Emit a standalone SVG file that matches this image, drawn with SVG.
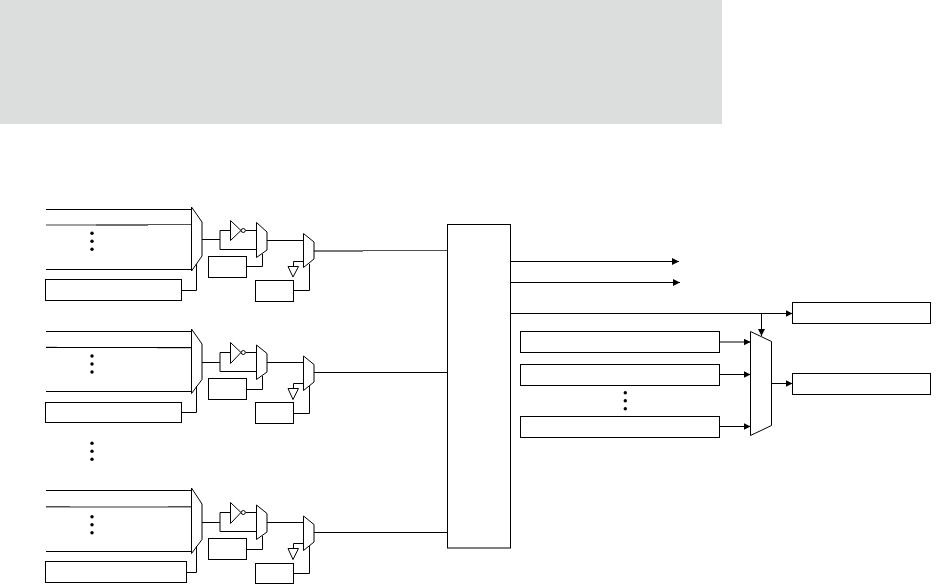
<svg xmlns="http://www.w3.org/2000/svg" width="936" height="587" viewBox="0 0 936 587">
<style>
.l{fill:none;stroke:#000;stroke-width:1}
.s{fill:#fff;stroke:#000;stroke-width:1}
.m{fill:none;stroke:#000;stroke-width:1;stroke-linejoin:miter}
.d{fill:#000}
</style>
<defs>
<marker id="a" markerUnits="userSpaceOnUse" markerWidth="8" markerHeight="8" refX="7" refY="3.5" orient="auto"><path d="M0 0L7 3.5L0 7z"/></marker>
<g id="dots"><circle class="d" cx="0" cy="0" r="1.7"/><circle class="d" cx="0" cy="8" r="1.7"/><circle class="d" cx="0" cy="16" r="1.7"/></g>
</defs>
<rect id="banner" x="0" y="0" width="722" height="124" fill="#dcdddd"/>
<g id="connectors">
<path class="l" d="M46 209.5H191.5M46 269.5H191.5"/>
<path fill="none" stroke="#a0a0a0" stroke-width="2" d="M46 225H96"/>
<path fill="none" stroke="#707070" stroke-width="2" d="M96 225H148"/>
<path fill="none" stroke="#505050" stroke-width="1" d="M148 224.5H191.5"/>
<path class="l" d="M202 239.5H220V249.5H256.5M220 239.5V230.5H230M245.5 230.5H256.5M267 240.5H303.5"/>
<path fill="none" stroke="#777" stroke-width="2" d="M314 251H363"/>
<path fill="none" stroke="#505050" stroke-width="1" d="M363 250.5H447.5"/>
<path class="l" d="M181.5 290.5H196.5V264M246.5 266.5H262.5V254M293.5 290.5H309.5V264M293.5 266V261.5H303.5"/>
<path class="l" d="M46 331.5H191.5M46 347.5H191.5M46 391.5H191.5"/>
<path fill="none" stroke="#ccc" stroke-width="1" d="M46 346.5H57M157 348.5H191"/>
<path class="l" d="M202 362.5H220V371.5H256.5M220 362.5V352.5H230M245.5 352.5H256.5M267 362.5H303.5M314 372.5H447.5"/>
<path class="l" d="M181.5 412.5H196.5V386M246.5 389.5H262.5V376M293.5 413.5H309.5V386M293.5 388.5V383.5H303.5"/>
<path class="l" d="M46 490.5H191.5M46 551.5H191.5"/>
<path fill="none" stroke="#505050" stroke-width="1.5" d="M46 506.8H70M168 506.8H191.5"/>
<path fill="none" stroke="#999" stroke-width="2" d="M70 507H168"/>
<path class="l" d="M202 522.5H220V531.5H256.5M220 522.5V512.5H230M245.5 512.5H256.5M267 522.5H303.5M314 532.5H447.5"/>
<path class="l" d="M186.5 572.5H196.5V546M246.5 549.5H262.5V536M293.5 573.5H309.5V546M293.5 548.5V543.5H303.5"/>
<path class="l" marker-end="url(#a)" d="M510.5 261.5H679"/>
<path class="l" marker-end="url(#a)" d="M510.5 282.5H680"/>
<path class="l" marker-end="url(#a)" d="M510.5 313.5H792.5"/>
<path class="l" marker-end="url(#a)" d="M761.5 313.5V336"/>
<path class="l" marker-end="url(#a)" d="M719.5 342H750.5"/>
<path class="l" marker-end="url(#a)" d="M719.5 374.5H750.5"/>
<path class="l" marker-end="url(#a)" d="M719.5 426.5H750.5"/>
<path class="l" marker-end="url(#a)" d="M771.5 383.5H792.5"/>
</g>
<g id="group1">
<path class="m" d="M191.5 207L202 222V256L191.5 271Z"/>
<path class="m" d="M230.5 220.5V240.5L241 230.5Z"/><circle class="s" cx="243.3" cy="230.5" r="2"/>
<path class="m" d="M256.5 222.5L267 232V250L256.5 257.5Z"/>
<path class="m" d="M303.5 233.5L314 242V259L303.5 267.5Z"/>
<path class="m" d="M288 266.5H298.5L293 277Z"/>
<rect class="l" x="45.5" y="279.5" width="136" height="21"/>
<rect class="l" x="208.5" y="256.5" width="38" height="21"/>
<rect class="l" x="255.5" y="280.5" width="38" height="21"/>
<use href="#dots" x="92" y="233.3"/>
</g>
<g id="group2">
<path class="m" d="M191.5 329L202 344V379.5L191.5 393.5Z"/>
<path class="m" d="M230.5 342.5V363.5L241 352.5Z"/><circle class="s" cx="243.3" cy="352.5" r="2"/>
<path class="m" d="M256.5 345L267 353.5V372L256.5 379.5Z"/>
<path class="m" d="M303.5 356L314 364.5V382L303.5 390.5Z"/>
<path class="m" d="M288 388.5H298.5L293 399.5Z"/>
<rect class="l" x="45.5" y="402.5" width="136" height="20"/>
<rect class="l" x="208.5" y="378.5" width="38" height="21"/>
<rect class="l" x="255.5" y="402.5" width="38" height="21"/>
<use href="#dots" x="92" y="356"/>
</g>
<use id="dots-between" href="#dots" x="92" y="443.3"/>
<g id="group3">
<path class="m" d="M191.5 488L202 504V539.5L191.5 553.5Z"/>
<path class="m" d="M230.5 502.5V523.5L241 512.5Z"/><circle class="s" cx="243.3" cy="512.5" r="2"/>
<path class="m" d="M256.5 505L267 513.5V532L256.5 539.5Z"/>
<path class="m" d="M303.5 516L314 524.5V542L303.5 550.5Z"/>
<path class="m" d="M288 548.5H298.5L293 559.5Z"/>
<rect class="l" x="45.5" y="561.5" width="141" height="21"/>
<rect class="l" x="208.5" y="538.5" width="38" height="21"/>
<rect class="l" x="255.5" y="563.5" width="38" height="20"/>
<use href="#dots" x="92" y="516.7"/>
</g>
<g id="central"><rect class="l" x="447.5" y="224.5" width="63" height="323.5"/></g>
<g id="source1"><rect class="l" x="520.5" y="331.5" width="199" height="21"/></g>
<g id="source2"><rect class="l" x="520.5" y="364.5" width="199" height="21"/></g>
<g id="source3"><rect class="l" x="520.5" y="416.5" width="199" height="21"/></g>
<use id="source-dots" href="#dots" x="625.3" y="392.7"/>
<g id="outmux"><path class="m" d="M750.5 331.5L771.5 341.5V425.5L750.5 435.5Z"/></g>
<g id="out1"><rect class="l" x="792.5" y="302.5" width="138" height="21"/></g>
<g id="out2"><rect class="l" x="792.5" y="373.5" width="138" height="21"/></g>
</svg>
